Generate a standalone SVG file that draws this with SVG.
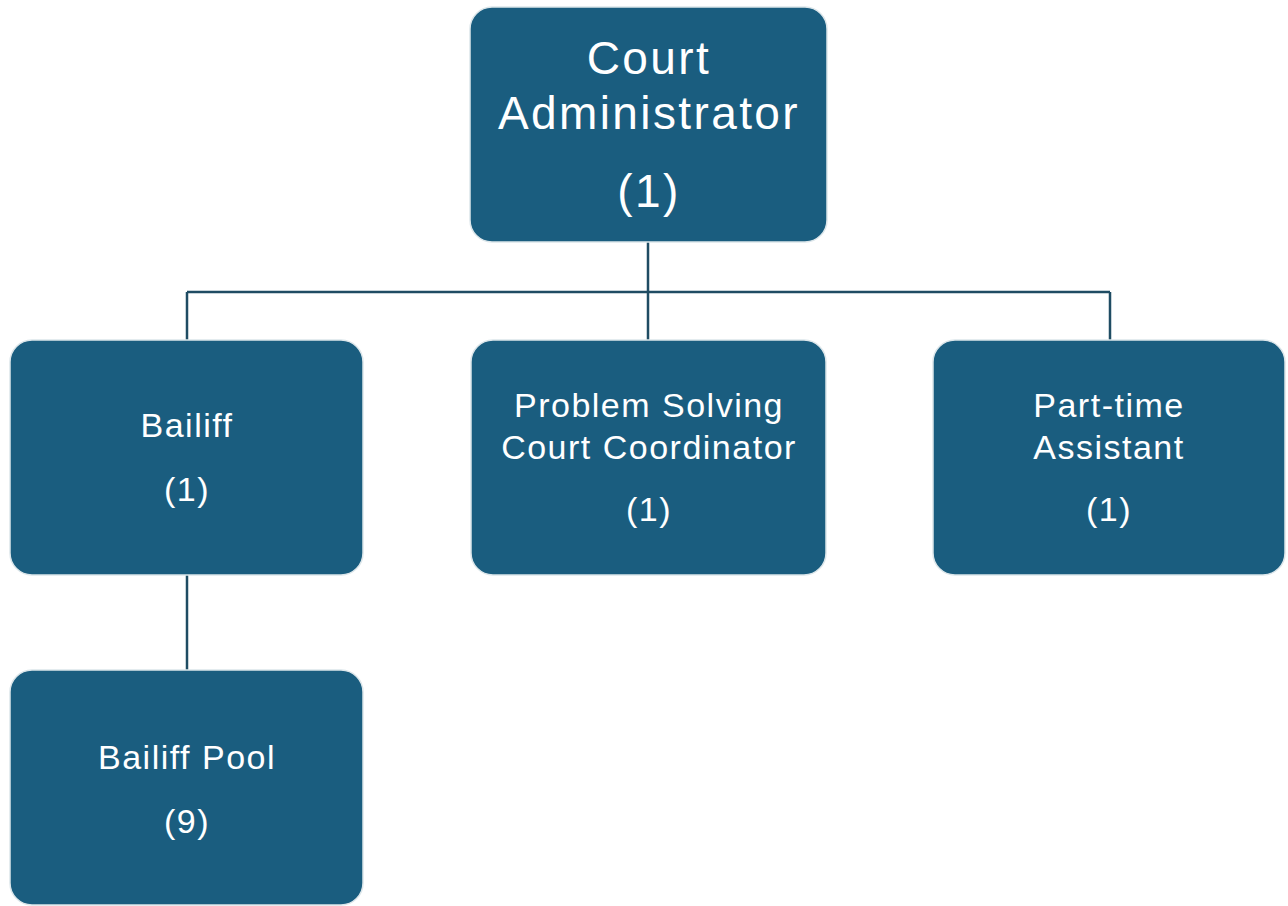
<svg xmlns="http://www.w3.org/2000/svg" width="1288" height="906" viewBox="0 0 1288 906">
  <style>
    .box { fill: #1a5d7f; stroke: #dce6ea; stroke-width: 1.5; }
    .lbl { fill: #ffffff; font-family: "Liberation Sans", Arial, sans-serif; text-anchor: middle; }
    .big { font-size: 46px; letter-spacing: 2.4px; }
    .sm { font-size: 34px; letter-spacing: 1.5px; }
    .link { fill: none; stroke: #1f4c63; stroke-width: 2.5; }
  </style>
  <rect width="1288" height="906" fill="#ffffff"/>

  <g id="connectors">
    <path class="link" d="M648 242 V292 M187 292 H1110 M187 292 V340 M648 292 V340 M1110 292 V340"/>
    <path class="link" d="M187 575 V670"/>
  </g>

  <g id="court-administrator">
    <rect class="box" x="470" y="7" width="357" height="235" rx="22"/>
    <text class="lbl big" x="649" y="74">Court</text>
    <text class="lbl big" x="649" y="129">Administrator</text>
    <text class="lbl big" x="649" y="207">(1)</text>
  </g>

  <g id="bailiff">
    <rect class="box" x="10" y="340" width="353" height="235" rx="22"/>
    <text class="lbl sm" x="187" y="437">Bailiff</text>
    <text class="lbl sm" x="187" y="501">(1)</text>
  </g>

  <g id="problem-solving-coordinator">
    <rect class="box" x="471" y="340" width="355" height="235" rx="22"/>
    <text class="lbl sm" x="649" y="417">Problem Solving</text>
    <text class="lbl sm" x="649" y="459">Court Coordinator</text>
    <text class="lbl sm" x="649" y="521">(1)</text>
  </g>

  <g id="part-time-assistant">
    <rect class="box" x="933" y="340" width="352" height="235" rx="22"/>
    <text class="lbl sm" x="1109" y="417">Part-time</text>
    <text class="lbl sm" x="1109" y="459">Assistant</text>
    <text class="lbl sm" x="1109" y="521">(1)</text>
  </g>

  <g id="bailiff-pool">
    <rect class="box" x="10" y="670" width="353" height="235" rx="22"/>
    <text class="lbl sm" x="187" y="769">Bailiff Pool</text>
    <text class="lbl sm" x="187" y="833">(9)</text>
  </g>
</svg>
